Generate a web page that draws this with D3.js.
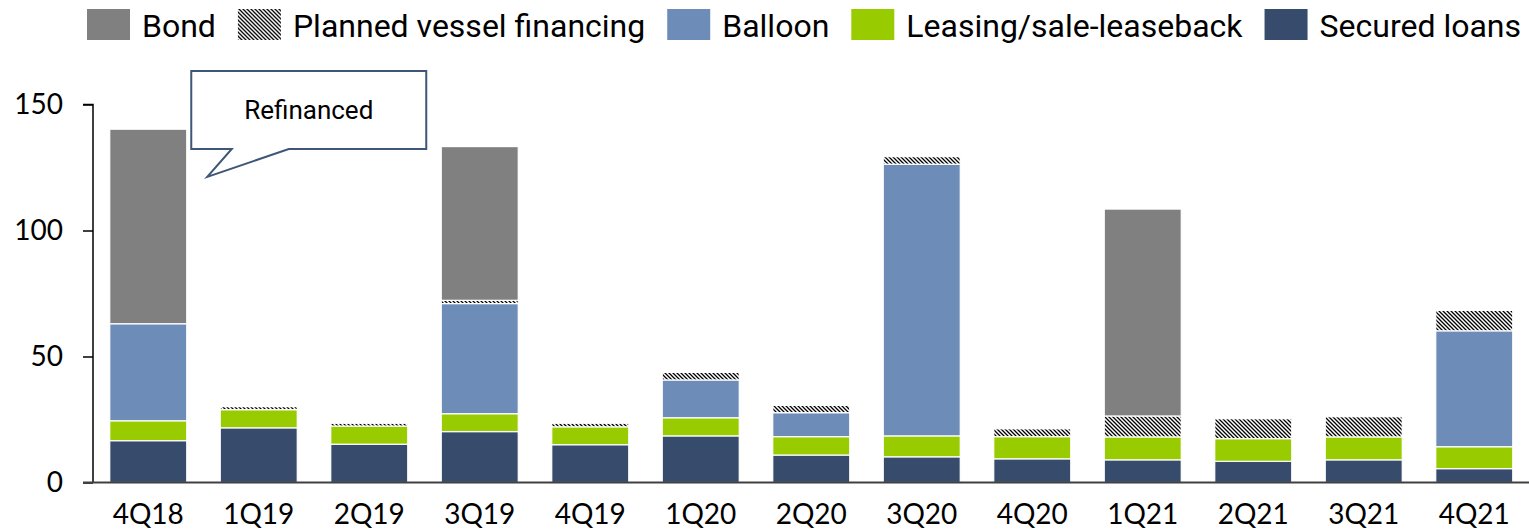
<!DOCTYPE html>
<html>
<head>
<meta charset="utf-8">
<script src="https://cdn.jsdelivr.net/npm/d3@7"></script>
<style>
  body { margin: 0; background: #fff; }
  svg { display: block; }
</style>
</head>
<body>
<svg width="1529" height="532"></svg>
<script>
// quarters on the x axis
var quarters = ["4Q18", "1Q19", "2Q19", "3Q19", "4Q19", "1Q20", "2Q20",
                "3Q20", "4Q20", "1Q21", "2Q21", "3Q21", "4Q21"];

// stacked from the bottom up
var securedLoans = [16.6, 21.7, 15.2, 20.2, 15.0, 18.5, 10.9, 10.2, 9.4, 9.0, 8.4, 9.0, 5.5];
var leasing      = [7.9, 7.2, 7.2, 7.1, 7.1, 7.2, 7.3, 8.3, 8.8, 9.1, 9.0, 9.1, 8.7];
var balloon      = [38.5, 0, 0, 43.7, 0, 15.0, 9.5, 107.8, 0, 0, 0, 0, 46.0];
var planned      = [0, 1.2, 1.1, 1.3, 1.4, 3.0, 2.9, 3.0, 3.1, 8.3, 7.9, 8.0, 8.1];
var bond         = [77.2, 0, 0, 61.0, 0, 0, 0, 0, 0, 82.1, 0, 0, 0];

var yTicks = [0, 50, 100, 150];
var legendOrder = ["Bond", "Planned vessel financing", "Balloon", "Leasing/sale-leaseback", "Secured loans"];

var series = [
  { name: "Secured loans", values: securedLoans, fill: "#374c6d" },
  { name: "Leasing/sale-leaseback", values: leasing, fill: "#99cc00" },
  { name: "Balloon", values: balloon, fill: "#6d8cb8" },
  { name: "Planned vessel financing", values: planned, fill: "url(#hatch)" },
  { name: "Bond", values: bond, fill: "#808080" }
];

var svg = d3.select("svg");

// hatch pattern for planned financing
var defs = svg.append("defs");
var pat = defs.append("pattern")
    .attr("id", "hatch")
    .attr("patternUnits", "userSpaceOnUse")
    .attr("width", 4)
    .attr("height", 4);
pat.append("rect").attr("width", 4).attr("height", 4).attr("fill", "#fff");
pat.append("path")
    .attr("d", "M-1,-1 L5,5 M-1,3 L1,5 M3,-1 L5,1")
    .attr("stroke", "#000")
    .attr("stroke-width", 1.3);

var x = d3.scaleBand()
    .domain(quarters)
    .range([93, 1529.5])
    .paddingInner(0.303)
    .paddingOuter(0.1515);

var y = d3.scaleLinear()
    .domain([0, 150])
    .range([482.5, 104.5]);

// build stack rows
var rows = quarters.map(function(q, i) {
  var r = { quarter: q };
  series.forEach(function(s) { r[s.name] = s.values[i]; });
  return r;
});

var stacked = d3.stack().keys(series.map(function(s) { return s.name; }))(rows);

svg.append("g")
  .selectAll("g")
  .data(stacked)
  .enter()
  .append("g")
    .attr("fill", function(d, i) { return series[i].fill; })
  .selectAll("rect")
  .data(function(d) { return d.filter(function(p) { return p[1] - p[0] > 0; }); })
  .enter()
  .append("rect")
    .attr("x", function(d) { return x(d.data.quarter); })
    .attr("width", x.bandwidth())
    .attr("y", function(d) { return y(d[1]); })
    .attr("height", function(d) { return y(d[0]) - y(d[1]); })
    .attr("stroke", "#fff")
    .attr("stroke-width", 1.2);

// y axis
var yAxis = svg.append("g")
    .attr("transform", "translate(93,0)")
    .call(d3.axisLeft(y).tickValues(yTicks).tickSize(10).tickPadding(20).tickFormat(d3.format("d")));
yAxis.select(".domain").attr("stroke", "#000").attr("stroke-width", 1.5)
    .attr("d", "M-10," + y(150) + "H0V" + y(0));
yAxis.selectAll(".tick line").attr("stroke", "#000").attr("stroke-width", 1.5);
yAxis.selectAll("text")
    .attr("font-family", "Lato, sans-serif")
    .attr("font-size", 28)
    .attr("fill", "#000");

// x axis
var xAxis = svg.append("g")
    .attr("transform", "translate(0," + y(0) + ")")
    .call(d3.axisBottom(x).tickSize(0).tickPadding(22));
xAxis.select(".domain").attr("stroke", "#404040").attr("stroke-width", 2)
    .attr("d", "M83,0H1529");
xAxis.selectAll("text")
    .attr("font-family", "Lato, sans-serif")
    .attr("font-size", 28)
    .attr("fill", "#000");

// legend
var fillByName = {};
series.forEach(function(s) { fillByName[s.name] = s.fill; });

var lx = 87;
legendOrder.forEach(function(name) {
  var g = svg.append("g").attr("transform", "translate(" + lx + ",0)");
  g.append("rect")
    .attr("x", 0).attr("y", 9)
    .attr("width", 43).attr("height", 31)
    .attr("fill", fillByName[name]);
  var t = g.append("text")
    .attr("x", 55).attr("y", 37)
    .attr("font-family", "Roboto, sans-serif")
    .attr("font-size", 32)
    .attr("fill", "#000")
    .text(name);
  lx += 55 + t.node().getComputedTextLength() + 22;
});

// callout "Refinanced"
var bx0 = x("4Q18") + x.bandwidth() + 4.5;
var bx1 = bx0 + 235;
var by0 = 71, by1 = 149;
var tipX = x("4Q18") + x.bandwidth() + 20.5;
var tipY = y(121.3);
svg.append("path")
    .attr("d", "M" + bx0 + "," + by0 + "H" + bx1 + "V" + by1 +
               "H" + (bx0 + 97.5) + "L" + tipX + "," + tipY +
               "L" + (bx0 + 40.5) + "," + by1 + "H" + bx0 + "Z")
    .attr("fill", "#fff")
    .attr("stroke", "#3e5677")
    .attr("stroke-width", 2);
svg.append("text")
    .attr("x", (bx0 + bx1) / 2)
    .attr("y", 119)
    .attr("text-anchor", "middle")
    .attr("font-family", "Roboto, sans-serif")
    .attr("font-size", 26)
    .attr("fill", "#000")
    .text("Refinanced");
</script>
</body>
</html>
